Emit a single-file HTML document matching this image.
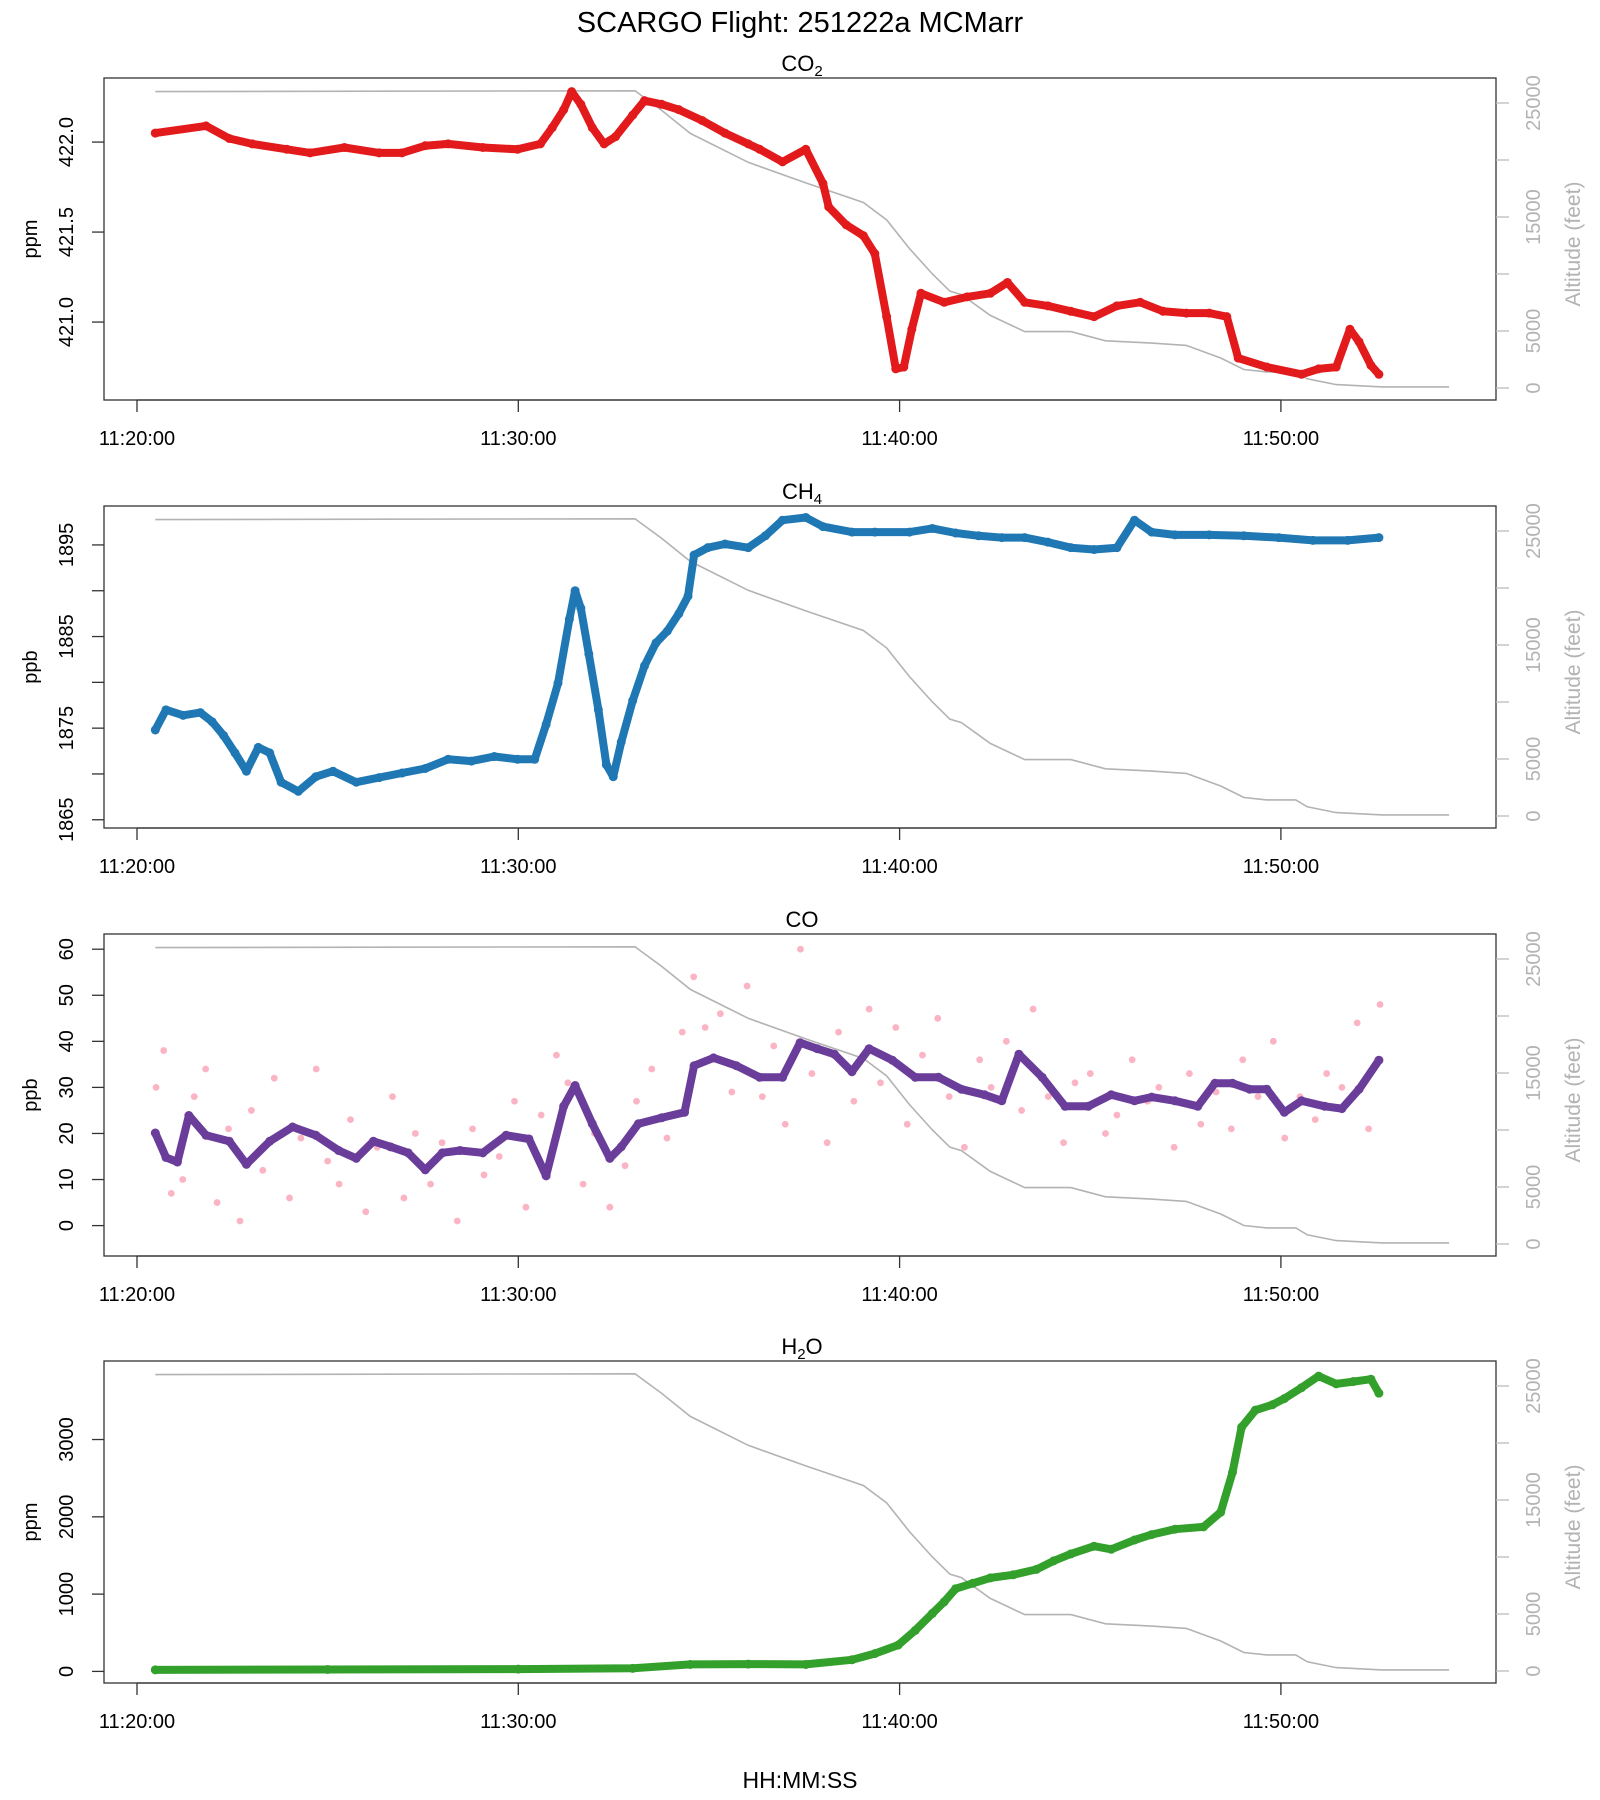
<!DOCTYPE html>
<html><head><meta charset="utf-8">
<style>
html,body{margin:0;padding:0;background:#fff;}
svg{display:block;font-family:"Liberation Sans",Arial,sans-serif;}
</style></head>
<body>
<svg id="chart" width="1600" height="1800" viewBox="0 0 1600 1800" xmlns="http://www.w3.org/2000/svg">
<text x="800" y="32" font-size="29" text-anchor="middle">SCARGO Flight: 251222a  MCMarr</text>
<text x="800" y="1788" font-size="23" text-anchor="middle">HH:MM:SS</text>
</svg>
<script>
// Time in minutes after 11:20:00
const xTickLabels = ["11:20:00","11:30:00","11:40:00","11:50:00"];
const xTickMinutes = [0,10,20,30];

const altTime = [0.48,13.06,13.76,14.51,16.03,17.54,19.05,19.66,20.26,20.86,21.32,21.62,22.38,23.28,24.49,25.40,26.61,27.52,28.42,29.03,29.63,30.39,30.69,31.45,32.66,34.41];
const altFeet = [26000,26070,24350,22330,19800,17990,16270,14750,12230,10000,8490,8190,6370,4950,4950,4140,3940,3740,2630,1620,1410,1410,810,300,100,100];
const altTicks = [0,5000,10000,15000,20000,25000];
const altTickLabels = ["0","5000","","15000","","25000"];

const co2Time = [0.48,1.81,2.42,3.02,3.93,4.54,5.44,6.35,6.95,7.56,8.16,9.07,9.98,10.58,10.89,11.19,11.40,11.64,11.94,12.25,12.55,13.00,13.31,13.76,14.21,14.82,15.42,16.03,16.33,16.93,17.54,17.99,18.14,18.60,19.05,19.35,19.66,19.90,20.11,20.32,20.56,21.17,21.77,22.38,22.83,23.28,23.89,24.49,25.10,25.70,26.31,26.91,27.52,28.12,28.58,28.88,29.63,30.54,30.99,31.45,31.81,32.05,32.36,32.57];
const co2Vals = [422.05,422.09,422.02,421.99,421.96,421.94,421.97,421.94,421.94,421.98,421.99,421.97,421.96,421.99,422.08,422.18,422.28,422.21,422.08,421.99,422.03,422.15,422.23,422.21,422.18,422.12,422.05,421.99,421.96,421.89,421.96,421.77,421.64,421.54,421.48,421.38,421.03,420.74,420.75,420.96,421.16,421.11,421.14,421.16,421.22,421.11,421.09,421.06,421.03,421.09,421.11,421.06,421.05,421.05,421.03,420.80,420.75,420.71,420.74,420.75,420.96,420.89,420.76,420.71];
const co2Ticks = [421.0,421.5,422.0];
const co2TickLabels = ["421.0","421.5","422.0"];

const ch4Time = [0.48,0.76,1.21,1.66,1.97,2.27,2.57,2.87,3.18,3.48,3.78,4.23,4.69,5.14,5.75,6.35,6.95,7.56,8.16,8.77,9.37,9.98,10.43,10.73,11.04,11.34,11.49,11.64,11.85,12.10,12.31,12.49,12.70,13.00,13.31,13.61,13.91,14.21,14.45,14.61,14.97,15.42,16.03,16.48,16.93,17.54,17.99,18.75,19.35,20.26,20.86,21.47,22.07,22.68,23.28,23.89,24.49,25.10,25.70,26.16,26.61,27.22,28.12,29.03,29.94,30.84,31.75,32.57];
const ch4Vals = [1874.8,1877.0,1876.4,1876.7,1875.7,1874.2,1872.3,1870.3,1872.9,1872.3,1869.1,1868.1,1869.7,1870.3,1869.1,1869.6,1870.1,1870.6,1871.6,1871.4,1871.9,1871.6,1871.6,1875.4,1879.9,1886.9,1890.0,1888.1,1883.1,1877.0,1871.0,1869.7,1873.5,1878.0,1881.8,1884.3,1885.6,1887.5,1889.4,1893.9,1894.7,1895.1,1894.7,1896.0,1897.7,1898.0,1897.0,1896.4,1896.4,1896.4,1896.8,1896.3,1896.0,1895.8,1895.8,1895.3,1894.7,1894.5,1894.7,1897.7,1896.4,1896.1,1896.1,1896.0,1895.8,1895.5,1895.5,1895.8];
const ch4Ticks = [1865,1870,1875,1880,1885,1890,1895];
const ch4TickLabels = ["1865","","1875","","1885","","1895"];

const coTime = [0.48,0.76,1.06,1.36,1.81,2.42,2.87,3.48,4.08,4.69,5.29,5.75,6.20,6.65,7.11,7.56,8.01,8.47,9.07,9.68,10.28,10.73,11.19,11.49,11.94,12.40,12.70,13.15,13.76,14.36,14.61,15.12,15.72,16.33,16.93,17.39,17.84,18.29,18.75,19.20,19.81,20.41,21.02,21.62,22.23,22.68,23.13,23.74,24.34,24.95,25.55,26.16,26.61,27.22,27.82,28.27,28.73,29.18,29.63,30.09,30.54,31.15,31.60,32.05,32.57];
const coVals = [20.1,14.8,13.8,23.9,19.6,18.3,13.3,18.3,21.4,19.6,16.3,14.6,18.3,17.1,15.8,12.1,15.8,16.3,15.8,19.6,18.8,10.8,25.9,30.4,22.1,14.6,17.1,22.1,23.4,24.6,34.7,36.4,34.7,32.2,32.2,39.7,38.4,37.2,33.4,38.4,35.9,32.2,32.2,29.6,28.4,27.1,37.2,32.2,25.9,25.9,28.4,27.1,27.9,27.1,25.9,30.9,30.9,29.6,29.6,24.6,27.1,25.9,25.4,29.6,35.9];
const coRawTime = [0.5,0.7,0.9,1.2,1.5,1.8,2.1,2.4,2.7,3.0,3.3,3.6,4.0,4.3,4.7,5.0,5.3,5.6,6.0,6.3,6.7,7.0,7.3,7.7,8.0,8.4,8.8,9.1,9.5,9.9,10.2,10.6,11.0,11.3,11.7,12.0,12.4,12.8,13.1,13.5,13.9,14.3,14.6,14.9,15.3,15.6,16.0,16.4,16.7,17.0,17.4,17.7,18.1,18.4,18.8,19.2,19.5,19.9,20.2,20.6,21.0,21.3,21.7,22.1,22.4,22.8,23.2,23.5,23.9,24.3,24.6,25.0,25.4,25.7,26.1,26.5,26.8,27.2,27.6,27.9,28.3,28.7,29.0,29.4,29.8,30.1,30.5,30.9,31.2,31.6,32.0,32.3,32.6];
const coRawVals = [30,38,7,10,28,34,5,21,1,25,12,32,6,19,34,14,9,23,3,17,28,6,20,9,18,1,21,11,15,27,4,24,37,31,9,20,4,13,27,34,19,42,54,43,46,29,52,28,39,22,60,33,18,42,27,47,31,43,22,37,45,28,17,36,30,40,25,47,28,18,31,33,20,24,36,27,30,17,33,22,29,21,36,28,40,19,28,23,33,30,44,21,48];
const coTicks = [0,10,20,30,40,50,60];
const coTickLabels = ["0","10","20","30","40","50","60"];

const h2oTime = [0.48,5,10,13,14.51,16.03,17.54,18.75,19.35,19.96,20.41,20.86,21.17,21.47,21.92,22.38,22.98,23.59,24.04,24.49,25.10,25.55,26.16,26.61,27.22,27.97,28.42,28.73,28.97,29.33,29.78,30.09,30.54,30.99,31.45,31.90,32.36,32.57];
const h2oVals = [20,25,30,40,90,95,90,150,230,340,530,750,900,1070,1140,1210,1250,1320,1430,1520,1620,1580,1700,1770,1840,1870,2060,2575,3160,3380,3450,3530,3670,3820,3720,3750,3780,3600];
const h2oTicks = [0,1000,2000,3000];
const h2oTickLabels = ["0","1000","2000","3000"];

const NS = "http://www.w3.org/2000/svg";
const svg = document.getElementById("chart");
const L = 104, R = 1496, X0 = 137, PXMIN = 38.13;
function xScale(t){ return X0 + t*PXMIN; }
function mk(tag, attrs, parent){
  const e = document.createElementNS(NS, tag);
  for (const k in attrs) e.setAttribute(k, attrs[k]);
  (parent||svg).appendChild(e); return e;
}

const panels = [
  {key:"co2", top:78, title:"CO", sub:"2", unit:"ppm", ymin:420.567, ymax:422.356, t:co2Time, v:co2Vals, ticks:co2Ticks, tl:co2TickLabels, color:"#e31a1c"},
  {key:"ch4", top:506, title:"CH", sub:"4", unit:"ppb", ymin:1864.1, ymax:1899.25, t:ch4Time, v:ch4Vals, ticks:ch4Ticks, tl:ch4TickLabels, color:"#1f78b4"},
  {key:"co", top:934, title:"CO", sub:"", unit:"ppb", ymin:-6.6, ymax:63.3, t:coTime, v:coVals, ticks:coTicks, tl:coTickLabels, color:"#6a3d9a", raw:true},
  {key:"h2o", top:1361, title:"H", sub:"2", post:"O", unit:"ppm", ymin:-150, ymax:4016, t:h2oTime, v:h2oVals, ticks:h2oTicks, tl:h2oTickLabels, color:"#33a02c"}
];
const H = 322;

panels.forEach(p=>{
  const top = p.top, bot = top + H;
  const y = v => bot - (v - p.ymin)/(p.ymax - p.ymin)*H;
  const ya = a => bot - 12 - a*285/25000;
  const g = mk("g", {});
  
  

  const ap = altTime.map((t,i)=>xScale(t).toFixed(1)+","+ya(altFeet[i]).toFixed(1)).join(" ");
  const al = mk("polyline", {points:ap, fill:"none", stroke:"#b3b3b3", "stroke-width":"1.6"}, g);
  
  

  if (p.raw){
    coRawTime.forEach((t,i)=>{
      const c = mk("circle", {cx:xScale(t), cy:y(coRawVals[i]), r:3.4, fill:"#fbb4c3"}, g);
      
      
    });
  }
  const sp = p.t.map((t,i)=>xScale(t).toFixed(1)+","+y(p.v[i]).toFixed(1)).join(" ");
  const sl = mk("polyline", {points:sp, fill:"none", stroke:p.color, "stroke-width":"8", "stroke-linejoin":"round", "stroke-linecap":"round"}, g);
  
  
  p.t.forEach((t,i)=>{
    const c = mk("circle", {cx:xScale(t), cy:y(p.v[i]), r:4.5, fill:p.color}, g);
    
    
  });

  const fr = mk("rect", {x:L, y:top, width:R-L, height:H, fill:"none", stroke:"#333", "stroke-width":"1.3"}, g);
  
  

  const tt = mk("text", {x:802, y:top-7, "font-size":"22", "text-anchor":"middle"}, g);
  
  
  tt.appendChild(document.createTextNode(p.title));
  if (p.sub){ const s = mk("tspan", {"font-size":"15", dy:"5"}, tt); s.textContent = p.sub; }
  if (p.post){ const s = mk("tspan", {dy:"-5"}, tt); s.textContent = p.post; }

  mk("line", {x1:xScale(0), x2:xScale(30), y1:bot, y2:bot, stroke:"#333", "stroke-width":"1.3"}, g);
  xTickMinutes.forEach((m,i)=>{
    mk("line", {x1:xScale(m), x2:xScale(m), y1:bot, y2:bot+12, stroke:"#333", "stroke-width":"1.3"}, g);
    const tx = mk("text", {x:xScale(m), y:bot+45, "font-size":"20", "text-anchor":"middle"}, g);
    tx.textContent = xTickLabels[i];
    
    
  });

  p.ticks.forEach((v,i)=>{
    mk("line", {x1:L-12, x2:L, y1:y(v), y2:y(v), stroke:"#333", "stroke-width":"1.3"}, g);
    if (p.tl[i]){
      const tx = mk("text", {x:0, y:0, "font-size":"20", "text-anchor":"middle", transform:`translate(73,${y(v)}) rotate(-90)`}, g);
      tx.textContent = p.tl[i];
      
      
    }
  });
  const yl = mk("text", {x:0, y:0, "font-size":"20", "text-anchor":"middle", transform:`translate(37,${top+H/2}) rotate(-90)`}, g);
  yl.textContent = p.unit;
  
  

  altTicks.forEach((a,i)=>{
    mk("line", {x1:R, x2:R+13, y1:ya(a), y2:ya(a), stroke:"#bbb", "stroke-width":"1.3"}, g);
    if (altTickLabels[i]){
      const tx = mk("text", {x:0, y:0, "font-size":"20", fill:"#b3b3b3", "text-anchor":"middle", transform:`translate(1540,${ya(a)}) rotate(-90)`}, g);
      tx.textContent = altTickLabels[i];
      
      
    }
  });
  const rl = mk("text", {x:0, y:0, "font-size":"21", fill:"#b3b3b3", "text-anchor":"middle", transform:`translate(1580,${top+H/2+5}) rotate(-90)`}, g);
  rl.textContent = "Altitude (feet)";
  
  
});
</script>
</body></html>
